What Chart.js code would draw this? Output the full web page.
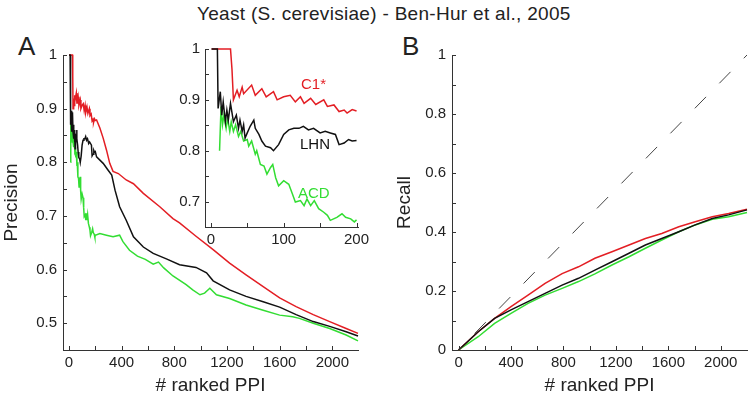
<!DOCTYPE html>
<html>
<head>
<meta charset="utf-8">
<script src="https://cdn.jsdelivr.net/npm/chart.js@4.4.1/dist/chart.umd.min.js"></script>
<style>
  body { margin: 0; background: #fff; }
  #wrap { position: relative; width: 750px; height: 397px; background: #fff; font-family: "Liberation Sans", Arial, sans-serif; color: #222; }
  #wrap canvas { position: absolute; }
  .txt { position: absolute; white-space: nowrap; line-height: 1; }
</style>
</head>
<body>
<div id="wrap">
  <div class="txt" style="left:197px; top:4px; font-size:19px; letter-spacing:0.3px;">Yeast (S. cerevisiae) - Ben-Hur et al., 2005</div>
  <div class="txt" style="left:18px; top:33px; font-size:26px;">A</div>
  <div class="txt" style="left:402px; top:33px; font-size:26px;">B</div>
  <canvas id="chart-a" width="375" height="397" style="left:0; top:0;"></canvas>
  <canvas id="chart-inset" width="210" height="222" style="left:165px; top:35px;"></canvas>
  <canvas id="chart-b" width="375" height="397" style="left:375px; top:0;"></canvas>
  <div class="txt" style="left:301px; top:76px; font-size:15px; color:#e31e24;">C1*</div>
  <div class="txt" style="left:300px; top:136px; font-size:15px; color:#111;">LHN</div>
  <div class="txt" style="left:298px; top:185px; font-size:15px; color:#33dd33;">ACD</div>
</div>
<script>
// ------------------------------
// DATA
// ------------------------------

// first 200 ranked PPIs (inset, also start of panel A)
const c1InsetRank  = [1, 27, 29, 31, 36, 39, 43, 45, 56, 61, 70, 76, 86, 91, 100, 109, 116, 123, 128, 137, 144, 155, 160, 169, 176, 183, 187, 194, 200];
const c1InsetPrec  = [1, 1, 0.961, 0.90, 0.919, 0.906, 0.925, 0.912, 0.929, 0.909, 0.922, 0.906, 0.916, 0.90, 0.906, 0.909, 0.896, 0.906, 0.893, 0.903, 0.891, 0.90, 0.887, 0.89, 0.877, 0.88, 0.874, 0.881, 0.878];

const lhnInsetRank = [1, 9, 10, 13, 15, 17, 20, 22, 24, 27, 31, 35, 38, 40, 43, 45, 47, 50, 54, 59, 61, 66, 70, 75, 82, 86, 93, 100, 107, 114, 121, 127, 134, 141, 150, 157, 164, 171, 176, 183, 189, 194, 200];
const lhnInsetPrec = [1, 1, 0.883, 0.916, 0.87, 0.896, 0.857, 0.88, 0.86, 0.893, 0.857, 0.87, 0.844, 0.86, 0.838, 0.851, 0.825, 0.835, 0.848, 0.86, 0.844, 0.832, 0.819, 0.809, 0.806, 0.80, 0.812, 0.832, 0.841, 0.844, 0.844, 0.848, 0.841, 0.844, 0.835, 0.838, 0.835, 0.832, 0.812, 0.815, 0.822, 0.819, 0.82];

const acdInsetRank = [12, 14, 16, 18, 21, 23, 26, 28, 31, 34, 38, 41, 45, 50, 52, 56, 61, 63, 68, 73, 77, 82, 85, 89, 93, 100, 107, 112, 116, 123, 128, 132, 137, 142, 148, 155, 160, 164, 173, 180, 185, 192, 197, 200];
const acdInsetPrec = [0.80, 0.887, 0.851, 0.87, 0.844, 0.864, 0.838, 0.857, 0.838, 0.851, 0.828, 0.838, 0.819, 0.822, 0.809, 0.819, 0.793, 0.80, 0.773, 0.77, 0.754, 0.767, 0.773, 0.747, 0.731, 0.741, 0.734, 0.715, 0.699, 0.702, 0.692, 0.705, 0.692, 0.702, 0.686, 0.679, 0.673, 0.663, 0.669, 0.676, 0.669, 0.666, 0.66, 0.664];

// rest of panel A
const c1TailRank  = [210, 235, 260, 285, 310, 335, 375, 435, 490, 565, 690, 790, 840, 965, 1095, 1220, 1345, 1475, 1600, 1725, 1855, 1980, 2105, 2195];
const c1TailPrec  = [0.879, 0.864, 0.845, 0.823, 0.798, 0.783, 0.779, 0.767, 0.76, 0.742, 0.717, 0.695, 0.687, 0.662, 0.637, 0.612, 0.59, 0.568, 0.547, 0.531, 0.516, 0.503, 0.49, 0.481];

const lhnTailRank = [210, 260, 295, 325, 350, 385, 435, 490, 565, 640, 740, 840, 965, 1045, 1095, 1220, 1345, 1475, 1600, 1725, 1855, 1980, 2105, 2195];
const lhnTailPrec = [0.81, 0.798, 0.786, 0.776, 0.748, 0.717, 0.692, 0.661, 0.642, 0.63, 0.62, 0.609, 0.604, 0.594, 0.579, 0.562, 0.55, 0.54, 0.53, 0.516, 0.503, 0.494, 0.484, 0.476];

const acdTailRank = [235, 285, 335, 385, 410, 460, 520, 580, 640, 680, 720, 790, 890, 940, 995, 1030, 1070, 1120, 1220, 1345, 1475, 1600, 1700, 1750, 1855, 1980, 2105, 2195];
const acdTailPrec = [0.667, 0.664, 0.661, 0.664, 0.652, 0.636, 0.625, 0.619, 0.61, 0.614, 0.603, 0.588, 0.572, 0.562, 0.553, 0.556, 0.565, 0.553, 0.546, 0.534, 0.524, 0.515, 0.512, 0.509, 0.5, 0.49, 0.478, 0.467];

// panel B recall
const recallRank = [0, 150, 275, 400, 530, 660, 790, 915, 1040, 1170, 1300, 1425, 1550, 1680, 1805, 1935, 2060, 2200];
const c1Recall   = [0, 0.062, 0.107, 0.147, 0.186, 0.226, 0.259, 0.282, 0.311, 0.333, 0.356, 0.378, 0.395, 0.418, 0.435, 0.452, 0.463, 0.477];
const lhnRecall  = [0, 0.062, 0.107, 0.136, 0.164, 0.192, 0.22, 0.243, 0.271, 0.299, 0.328, 0.356, 0.378, 0.401, 0.424, 0.446, 0.458, 0.475];
const acdRecall  = [0, 0.045, 0.09, 0.124, 0.158, 0.186, 0.209, 0.232, 0.258, 0.288, 0.316, 0.345, 0.373, 0.401, 0.424, 0.443, 0.452, 0.466];
const diagRank   = [0, 2200];
const diagRecall = [0, 1];

// ticks
const rankTicks      = [0, 200, 400, 600, 800, 1000, 1200, 1400, 1600, 1800, 2000];
const precTicks      = [0.5, 0.55, 0.6, 0.65, 0.7, 0.75, 0.8, 0.85, 0.9, 0.95, 1];
const recallTicks    = [0, 0.1, 0.2, 0.3, 0.4, 0.5, 0.6, 0.7, 0.8, 0.9, 1];
const insetRankTicks = [0, 50, 100, 150, 200];
const insetPrecTicks = [0.7, 0.75, 0.8, 0.85, 0.9, 0.95, 1];

// ------------------------------
// STYLE
// ------------------------------
const RED = "#e31e24";
const BLACK = "#111111";
const GREEN = "#33dd33";
const AXIS = "#333333";
const FONT = "'Liberation Sans', Arial, sans-serif";

const pts = (xs, ys) => xs.map((x, i) => ({ x, y: ys[i] }));

function line(data, color, extra) {
    return Object.assign({
        data,
        borderColor: color,
        borderWidth: 1.5,
        pointRadius: 0,
        showLine: true,
        tension: 0,
        clip: false
    }, extra || {});
}

// inward tick marks like the original figure
const inTicks = {
    id: "inTicks",
    afterDraw(chart) {
        const ctx = chart.ctx, a = chart.chartArea;
        const xs = chart.scales.x, ys = chart.scales.y;
        ctx.save();
        ctx.strokeStyle = AXIS;
        ctx.lineWidth = 1;
        ctx.beginPath();
        xs.ticks.forEach(t => {
            const px = Math.round(xs.getPixelForValue(t.value)) + 0.5;
            ctx.moveTo(px, a.bottom);
            ctx.lineTo(px, a.bottom - 4);
        });
        ys.ticks.forEach(t => {
            const py = Math.round(ys.getPixelForValue(t.value)) + 0.5;
            ctx.moveTo(a.left, py);
            ctx.lineTo(a.left + 4, py);
        });
        ctx.stroke();
        ctx.restore();
    }
};

function axis(opts) {
    return {
        type: "linear",
        min: opts.min,
        max: opts.max,
        grid: { display: false, drawTicks: false },
        border: { display: true, color: AXIS, width: 1 },
        afterBuildTicks: s => { s.ticks = opts.ticks.map(v => ({ value: v })); },
        afterFit: s => {
            if (opts.width != null) s.width = opts.width;
            if (opts.height != null) s.height = opts.height;
        },
        ticks: {
            autoSkip: false,
            maxRotation: 0,
            padding: opts.pad,
            color: "#222",
            font: { family: FONT, size: 15 },
            callback: v => opts.label(v) ? String(Math.round(v * 10) / 10) : ""
        },
        title: opts.title ? {
            display: true,
            text: opts.title,
            color: "#222",
            font: { family: FONT, size: 19 },
            padding: opts.titlePad
        } : { display: false }
    };
}

const every = step => v => Math.abs(v / step - Math.round(v / step)) < 1e-6;

function makeChart(id, datasets, padding, xOpts, yOpts) {
    return new Chart(document.getElementById(id).getContext("2d"), {
        type: "scatter",
        data: { datasets },
        plugins: [inTicks],
        options: {
            responsive: false,
            animation: false,
            layout: { padding },
            plugins: { legend: { display: false }, tooltip: { enabled: false } },
            scales: { x: axis(xOpts), y: axis(yOpts) }
        }
    });
}

// ===========================================
// PANEL A - precision
// ===========================================
makeChart("chart-a", [
    line(pts(lhnInsetRank.concat(lhnTailRank), lhnInsetPrec.concat(lhnTailPrec)), BLACK),
    line(pts(c1InsetRank.concat(c1TailRank), c1InsetPrec.concat(c1TailPrec)), RED),
    line(pts(acdInsetRank.concat(acdTailRank), acdInsetPrec.concat(acdTailPrec)), GREEN)
], { top: 55, right: 17, left: 0, bottom: 0 },
{ min: -45, max: 2195, ticks: rankTicks, label: every(400), pad: 4, height: 47,
  title: "# ranked PPI", titlePad: { top: 0, bottom: 0 } },
{ min: 0.45, max: 1, ticks: precTicks, label: every(0.1), pad: 6, width: 63,
  title: "Precision", titlePad: { top: 0, bottom: 0 } });

// ===========================================
// INSET - first 200
// ===========================================
makeChart("chart-inset", [
    line(pts(lhnInsetRank, lhnInsetPrec), BLACK),
    line(pts(c1InsetRank, c1InsetPrec), RED),
    line(pts(acdInsetRank, acdInsetPrec), GREEN)
], { top: 12, right: 17, left: 0, bottom: 0 },
{ min: -8, max: 202, ticks: insetRankTicks, label: every(100), pad: 4, height: 30 },
{ min: 0.65, max: 1, ticks: insetPrecTicks, label: every(0.1), pad: 5, width: 40 });

// ===========================================
// PANEL B - recall
// ===========================================
makeChart("chart-b", [
    line(pts(diagRank, diagRecall), "#444", { borderWidth: 1, borderDash: [16, 19], borderDashOffset: 12 }),
    line(pts(recallRank, lhnRecall), BLACK),
    line(pts(recallRank, c1Recall), RED),
    line(pts(recallRank, acdRecall), GREEN)
], { top: 55, right: 3, left: 0, bottom: 0 },
{ min: -50, max: 2200, ticks: rankTicks, label: every(400), pad: 4, height: 47,
  title: "# ranked PPI", titlePad: { top: 0, bottom: 0 } },
{ min: 0, max: 1, ticks: recallTicks, label: every(0.2), pad: 6, width: 77,
  title: "Recall", titlePad: { top: 18, bottom: 0 } });
</script>
</body>
</html>
